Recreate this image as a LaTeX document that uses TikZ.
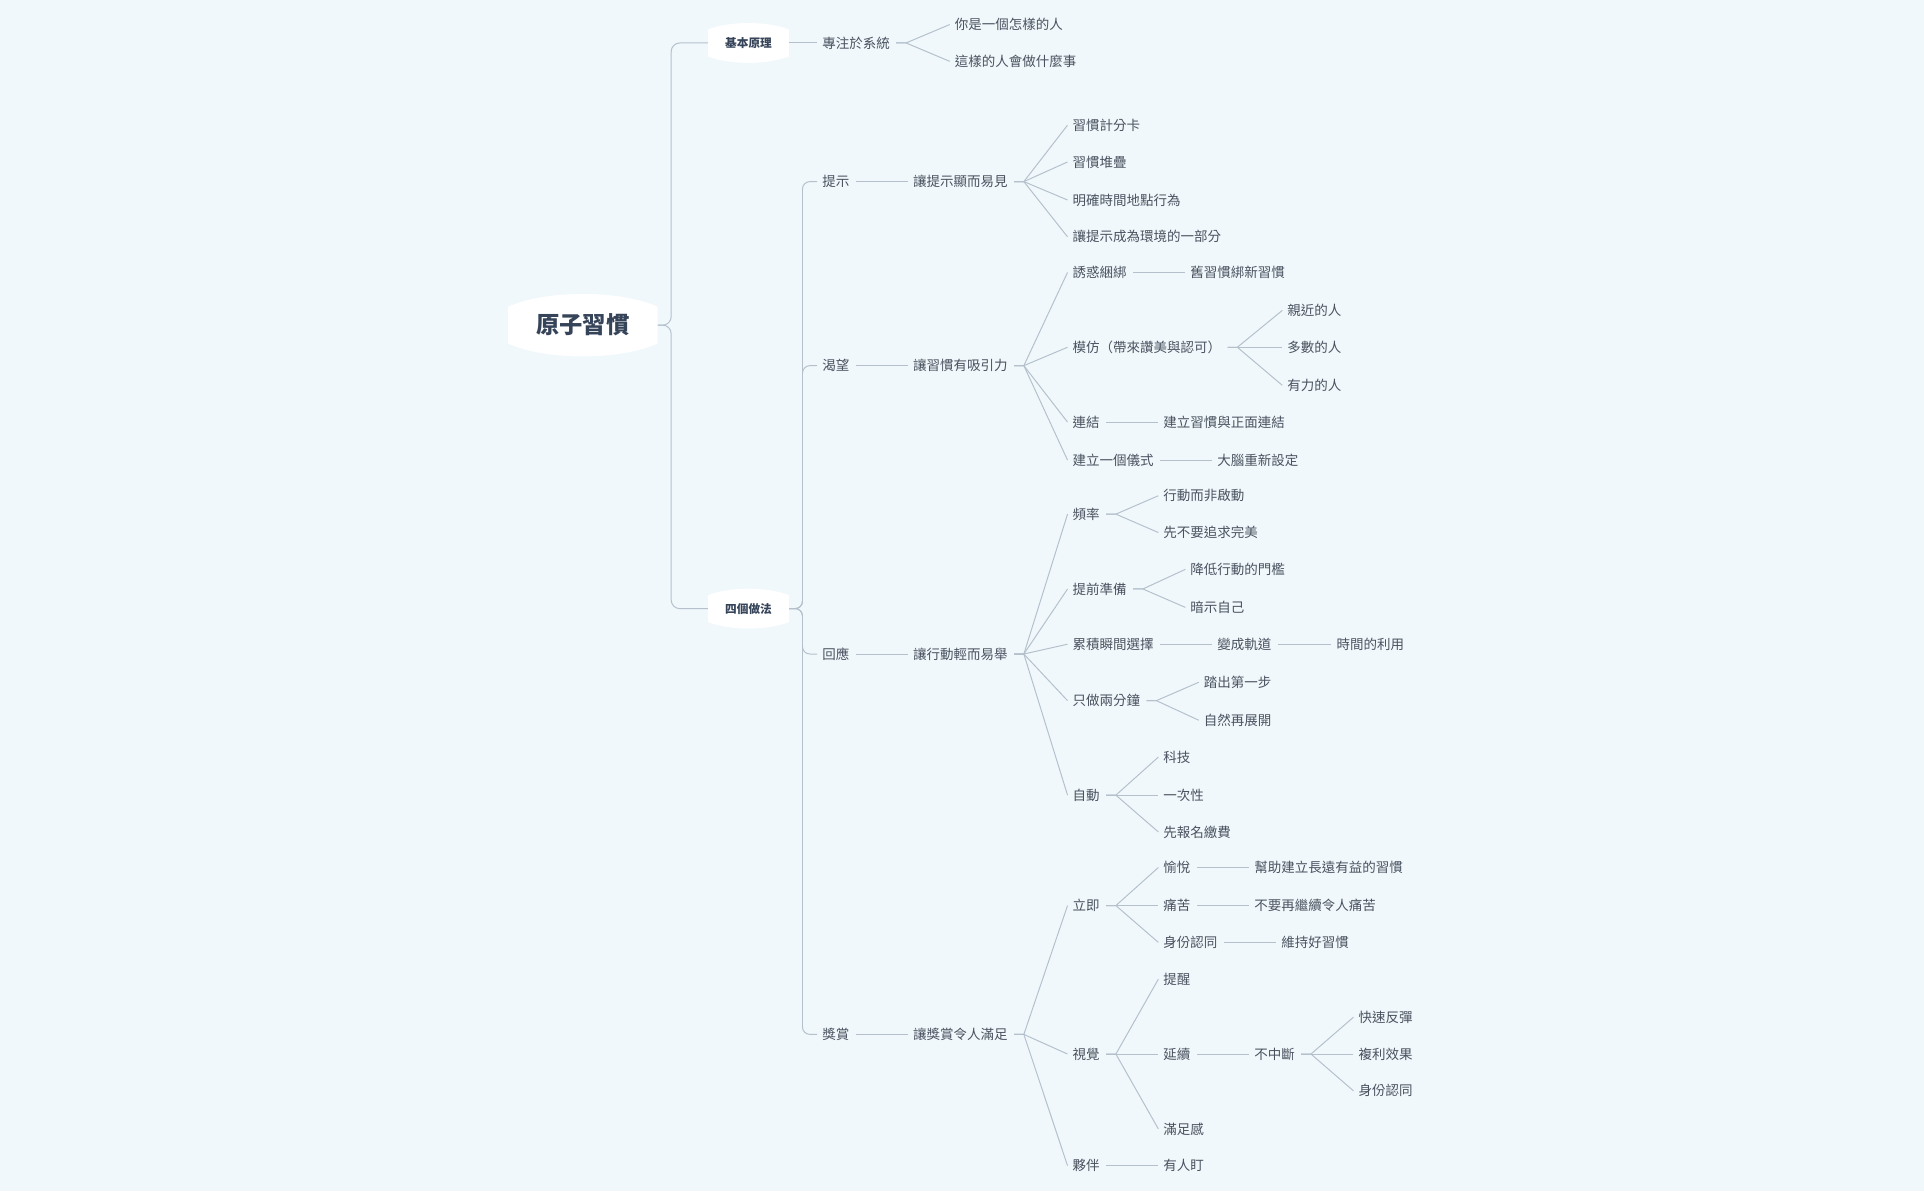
\documentclass[tikz,border=0pt]{standalone}
\usepackage{fontspec}
\setmainfont{Noto Sans CJK TC}
\usetikzlibrary{calc}
\definecolor{bg}{HTML}{F0F8FB}
\definecolor{tx}{HTML}{4A5260}
\definecolor{hd}{HTML}{36445A}
\definecolor{ln}{HTML}{B4C0CC}
\tikzset{
 txt/.style={anchor=west,inner sep=1pt,text=tx,font=\fontsize{11}{13}\selectfont},
 big/.style={inner sep=0pt,minimum width=122pt,minimum height=52pt,text=hd,font=\fontsize{19}{22}\selectfont\bfseries},
 mid/.style={inner sep=0pt,minimum width=66pt,minimum height=30pt,text=hd,font=\fontsize{9.5}{11}\selectfont\bfseries},
 lnk/.style={draw=ln,line width=0.8pt},
}
\newcommand\cn[2]{\draw[lnk] ($(#1.east)+(4,0)$) -- ++(8,0) -- ($(#2.west)+(-3,0)$);}
\newcommand\lf[3]{\node[txt] (#1) at (#2) {#3};}
\begin{document}
\begin{tikzpicture}[x=1pt,y=-1pt]
\fill[bg] (0,0) rectangle (1568,971);
\useasboundingbox (0,0) rectangle (1568,971);
% shapes
\fill[white] (414,250) .. controls (445,236) and (505,236) .. (536,250) -- (536,280) .. controls (505,294) and (445,294) .. (414,280) -- cycle;
\fill[white] (577,24) .. controls (595,17) and (625,17) .. (643,24) -- (643,46) .. controls (625,53) and (595,53) .. (577,46) -- cycle;
\fill[white] (577,485) .. controls (595,478) and (625,478) .. (643,485) -- (643,507) .. controls (625,514) and (595,514) .. (577,507) -- cycle;
\node[big] (root) at (475,265) {原子習慣};
\node[mid] (basic) at (610,35) {基本原理};
\node[mid] (four) at (610,496) {四個做法};
\draw[lnk,rounded corners=7] (root.east) -- (547,265) |- (basic.west);
\draw[lnk,rounded corners=7] (root.east) -- (547,265) |- (four.west);
% basic
\lf{sys}{669,35}{專注於系統}
\lf{s1}{777,20}{你是一個怎樣的人}
\lf{s2}{777,50}{這樣的人會做什麼事}
\draw[lnk] (basic.east) -- ($(sys.west)+(-3,0)$);
\cn{sys}{s1}\cn{sys}{s2}
% level 1
\lf{a}{669,148}{提示}
\lf{b}{669,298}{渴望}
\lf{c}{669,533}{回應}
\lf{d}{669,843}{獎賞}
\foreach \n in {a,b,c,d}{\draw[lnk,rounded corners=6] (four.east) -- (654,496) |- ($(\n.west)+(-3,0)$);}
\lf{a1}{743,148}{讓提示顯而易見}
\lf{b1}{743,298}{讓習慣有吸引力}
\lf{c1}{743,533}{讓行動輕而易舉}
\lf{d1}{743,843}{讓獎賞令人滿足}
\cn{a}{a1}\cn{b}{b1}\cn{c}{c1}\cn{d}{d1}
% a
\lf{a11}{873,102}{習慣計分卡}
\lf{a12}{873,132}{習慣堆疊}
\lf{a13}{873,163}{明確時間地點行為}
\lf{a14}{873,193}{讓提示成為環境的一部分}
\cn{a1}{a11}\cn{a1}{a12}\cn{a1}{a13}\cn{a1}{a14}
% b
\lf{b11}{873,222}{誘惑綑綁}
\lf{b12}{873,283}{模仿（帶來讚美與認可）}
\lf{b13}{873,344}{連結}
\lf{b14}{873,375}{建立一個儀式}
\cn{b1}{b11}\cn{b1}{b12}\cn{b1}{b13}\cn{b1}{b14}
\lf{b111}{969,222}{舊習慣綁新習慣}\cn{b11}{b111}
\lf{b121}{1048,253}{親近的人}
\lf{b122}{1048,283}{多數的人}
\lf{b123}{1048,314}{有力的人}
\cn{b12}{b121}\cn{b12}{b122}\cn{b12}{b123}
\lf{b131}{947,344}{建立習慣與正面連結}\cn{b13}{b131}
\lf{b141}{991,375}{大腦重新設定}\cn{b14}{b141}
% c
\lf{c11}{873,419}{頻率}
\lf{c12}{873,480}{提前準備}
\lf{c13}{873,525}{累積瞬間選擇}
\lf{c14}{873,571}{只做兩分鐘}
\lf{c15}{873,648}{自動}
\cn{c1}{c11}\cn{c1}{c12}\cn{c1}{c13}\cn{c1}{c14}\cn{c1}{c15}
\lf{c111}{947,404}{行動而非啟動}
\lf{c112}{947,434}{先不要追求完美}
\cn{c11}{c111}\cn{c11}{c112}
\lf{c121}{969,464}{降低行動的門檻}
\lf{c122}{969,495}{暗示自己}
\cn{c12}{c121}\cn{c12}{c122}
\lf{c131}{991,525}{變成軌道}\cn{c13}{c131}
\lf{c1311}{1088,525}{時間的利用}\cn{c131}{c1311}
\lf{c141}{980,556}{踏出第一步}
\lf{c142}{980,587}{自然再展開}
\cn{c14}{c141}\cn{c14}{c142}
\lf{c151}{947,617}{科技}
\lf{c152}{947,648}{一次性}
\lf{c153}{947,678}{先報名繳費}
\cn{c15}{c151}\cn{c15}{c152}\cn{c15}{c153}
% d
\lf{d11}{873,738}{立即}
\lf{d12}{873,859}{視覺}
\lf{d13}{873,950}{夥伴}
\cn{d1}{d11}\cn{d1}{d12}\cn{d1}{d13}
\lf{d111}{947,707}{愉悅}
\lf{d112}{947,738}{痛苦}
\lf{d113}{947,768}{身份認同}
\cn{d11}{d111}\cn{d11}{d112}\cn{d11}{d113}
\lf{d1111}{1021,707}{幫助建立長遠有益的習慣}\cn{d111}{d1111}
\lf{d1121}{1021,738}{不要再繼續令人痛苦}\cn{d112}{d1121}
\lf{d1131}{1043,768}{維持好習慣}\cn{d113}{d1131}
\lf{d121}{947,798}{提醒}
\lf{d122}{947,859}{延續}
\lf{d123}{947,920}{滿足感}
\cn{d12}{d121}\cn{d12}{d122}\cn{d12}{d123}
\lf{d1221}{1021,859}{不中斷}\cn{d122}{d1221}
\lf{e1}{1106,829}{快速反彈}
\lf{e2}{1106,859}{複利效果}
\lf{e3}{1106,889}{身份認同}
\cn{d1221}{e1}\cn{d1221}{e2}\cn{d1221}{e3}
\lf{d131}{947,950}{有人盯}\cn{d13}{d131}
\end{tikzpicture}
\end{document}
